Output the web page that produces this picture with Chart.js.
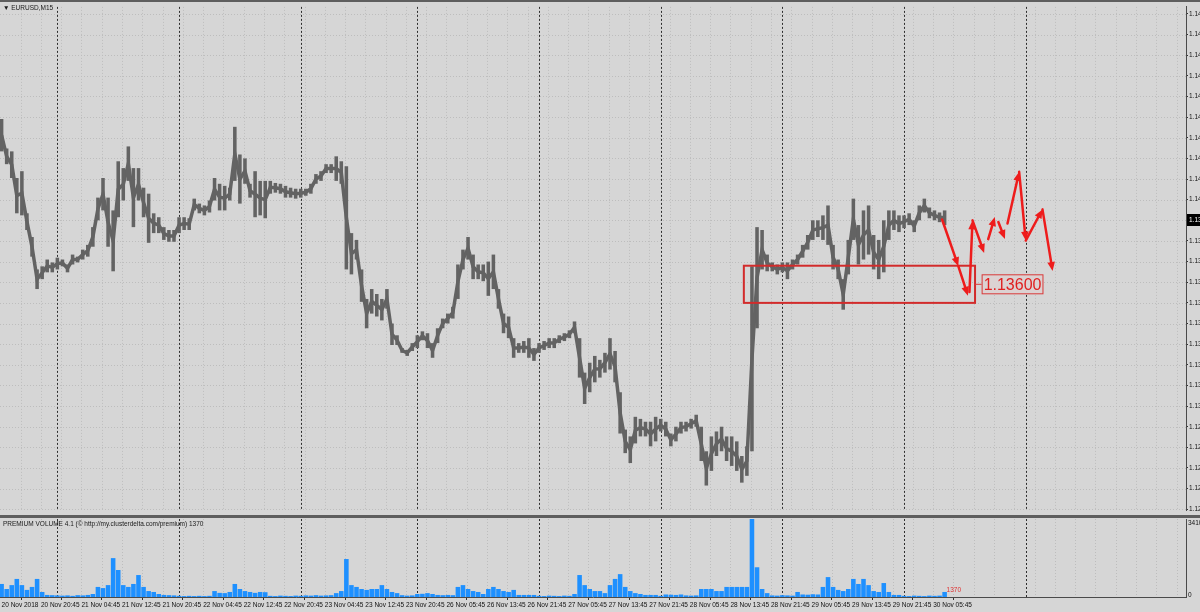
<!DOCTYPE html>
<html>
<head>
<meta charset="utf-8">
<script src="https://cdn.jsdelivr.net/npm/chart.js@4.4.1/dist/chart.umd.min.js"></script>
<style>
  html, body { margin: 0; padding: 0; background: #d6d6d6; }
  #wrap { position: relative; width: 1200px; height: 612px; overflow: hidden; background: #d6d6d6;
          font-family: "Liberation Sans", Arial, sans-serif; }
  .band { position: absolute; left: 0; width: 1200px; background: #5e5e5e; }
  .title { position: absolute; left: 3px; font-size: 6.5px; line-height: 8px; color: #1a1a1a; white-space: nowrap; }
  canvas { position: absolute; left: 0; }
</style>
</head>
<body>
<div id="wrap">
  <div class="band" style="top:0;height:2px"></div>
  <canvas id="priceChart" width="1200" height="513" style="top:2px"></canvas>
  <div class="band" style="top:515px;height:3px"></div>
  <canvas id="volChart" width="1200" height="94" style="top:518px"></canvas>
  <div class="title" style="top:4px">▼ EURUSD,M15</div>
  <div class="title" style="top:520px">PREMIUM VOLUME 4.1 (© http://my.clusterdelta.com/premium) 1370</div>
</div>
<script>
// EURUSD M15, gelesen pro Stunde (Index 0 = 20 Nov 13:00)
const highs = [
  1.14391, 1.14248, 1.14234, 1.14105, 1.14138, 1.13934, 1.13819, 1.13662, 1.13677, 1.13710,
  1.13696, 1.13719, 1.13710, 1.13686, 1.13734, 1.13724, 1.13758, 1.13781, 1.13867, 1.14010,
  1.14105, 1.14010, 1.13948, 1.14186, 1.14153, 1.14258, 1.14153, 1.14153, 1.14058, 1.14029,
  1.13934, 1.13915, 1.13867, 1.13853, 1.13853, 1.13915, 1.13915, 1.13910, 1.14005, 1.13981,
  1.13972, 1.13996, 1.14105, 1.14077, 1.14067, 1.14058, 1.14353, 1.14219, 1.14200, 1.14077,
  1.14138, 1.14091, 1.14091, 1.14091, 1.14081, 1.14077, 1.14067, 1.14058, 1.14053, 1.14053,
  1.14053, 1.14077, 1.14124, 1.14138, 1.14172, 1.14172, 1.14210, 1.14186, 1.14162, 1.13838,
  1.13805, 1.13662, 1.13519, 1.13567, 1.13543, 1.13519, 1.13567, 1.13400, 1.13343, 1.13281,
  1.13272, 1.13305, 1.13343, 1.13362, 1.13353, 1.13305, 1.13377, 1.13424, 1.13448, 1.13481,
  1.13686, 1.13758, 1.13819, 1.13734, 1.13686, 1.13686, 1.13700, 1.13734, 1.13567, 1.13448,
  1.13434, 1.13329, 1.13305, 1.13315, 1.13329, 1.13281, 1.13305, 1.13315, 1.13329, 1.13329,
  1.13343, 1.13353, 1.13367, 1.13410, 1.13329, 1.13162, 1.13210, 1.13243, 1.13224, 1.13258,
  1.13329, 1.13267, 1.13067, 1.12886, 1.12853, 1.12948, 1.12938, 1.12924, 1.12924, 1.12948,
  1.12938, 1.12924, 1.12867, 1.12900, 1.12924, 1.12924, 1.12938, 1.12958, 1.12900, 1.12781,
  1.12853, 1.12877, 1.12900, 1.12853, 1.12853, 1.12829, 1.12758, 1.12805, 1.13677, 1.13867,
  1.13853, 1.13734, 1.13696, 1.13686, 1.13696, 1.13696, 1.13710, 1.13734, 1.13781, 1.13829,
  1.13900, 1.13900, 1.13924, 1.13972, 1.13781, 1.13710, 1.13615, 1.13805, 1.14005, 1.13877,
  1.13948, 1.13972, 1.13829, 1.13805, 1.13900, 1.13948, 1.13948, 1.13924, 1.13924, 1.13934,
  1.13900, 1.13972, 1.14005, 1.13962, 1.13948, 1.13938, 1.13948
];
const lows = [
  1.14234, 1.14172, 1.14105, 1.13934, 1.13924, 1.13853, 1.13724, 1.13567, 1.13615, 1.13648,
  1.13648, 1.13662, 1.13677, 1.13648, 1.13686, 1.13696, 1.13710, 1.13724, 1.13772, 1.13900,
  1.13948, 1.13772, 1.13653, 1.13915, 1.13996, 1.14091, 1.13867, 1.13996, 1.13915, 1.13791,
  1.13838, 1.13838, 1.13805, 1.13796, 1.13796, 1.13838, 1.13853, 1.13853, 1.13948, 1.13934,
  1.13924, 1.13938, 1.13996, 1.13948, 1.13948, 1.13996, 1.14091, 1.13981, 1.14077, 1.14010,
  1.13915, 1.13924, 1.13910, 1.14029, 1.14034, 1.14029, 1.14010, 1.14010, 1.14005, 1.14010,
  1.14019, 1.14029, 1.14077, 1.14091, 1.14129, 1.14129, 1.14091, 1.14077, 1.13662, 1.13638,
  1.13710, 1.13505, 1.13377, 1.13448, 1.13434, 1.13415, 1.13472, 1.13296, 1.13296, 1.13258,
  1.13243, 1.13267, 1.13281, 1.13319, 1.13281, 1.13234, 1.13305, 1.13377, 1.13400, 1.13424,
  1.13519, 1.13662, 1.13710, 1.13615, 1.13615, 1.13605, 1.13534, 1.13567, 1.13472, 1.13353,
  1.13329, 1.13234, 1.13258, 1.13258, 1.13234, 1.13219, 1.13258, 1.13272, 1.13281, 1.13281,
  1.13305, 1.13315, 1.13329, 1.13353, 1.13138, 1.13010, 1.13067, 1.13115, 1.13138, 1.13162,
  1.13177, 1.13115, 1.12867, 1.12772, 1.12724, 1.12819, 1.12853, 1.12853, 1.12805, 1.12829,
  1.12877, 1.12853, 1.12805, 1.12829, 1.12867, 1.12877, 1.12891, 1.12900, 1.12734, 1.12615,
  1.12686, 1.12758, 1.12781, 1.12734, 1.12710, 1.12686, 1.12629, 1.12662, 1.12781, 1.13377,
  1.13662, 1.13653, 1.13653, 1.13638, 1.13648, 1.13615, 1.13662, 1.13686, 1.13719, 1.13758,
  1.13805, 1.13819, 1.13805, 1.13781, 1.13662, 1.13615, 1.13467, 1.13638, 1.13805, 1.13686,
  1.13710, 1.13734, 1.13662, 1.13615, 1.13648, 1.13805, 1.13853, 1.13843, 1.13862, 1.13877,
  1.13843, 1.13900, 1.13938, 1.13910, 1.13900, 1.13891, 1.13877
];
const volumes = [
  570, 350, 520, 790, 520, 310, 440, 790, 220, 90,
  80, 70, 60, 70, 50, 80, 70, 90, 130, 440,
  390, 520, 1700, 1180, 520, 440, 570, 960, 440, 260,
  220, 130, 90, 80, 70, 50, 40, 50, 40, 50,
  40, 50, 260, 180, 170, 220, 570, 350, 260, 220,
  180, 220, 210, 50, 40, 60, 50, 40, 60, 50,
  70, 60, 80, 60, 70, 80, 170, 260, 1660, 520,
  440, 350, 310, 350, 350, 520, 350, 220, 170, 80,
  60, 70, 130, 140, 170, 130, 90, 80, 90, 80,
  440, 520, 350, 260, 220, 130, 350, 440, 350, 260,
  220, 310, 90, 90, 90, 90, 50, 40, 60, 50,
  40, 60, 50, 130, 960, 520, 350, 260, 260, 170,
  520, 790, 1000, 440, 260, 170, 130, 90, 90, 90,
  50, 110, 100, 90, 110, 70, 60, 70, 350, 350,
  350, 260, 260, 440, 440, 440, 440, 440, 3410, 1300,
  350, 170, 70, 60, 80, 70, 60, 220, 110, 100,
  120, 110, 440, 870, 440, 310, 260, 350, 790, 570,
  790, 520, 260, 220, 610, 220, 90, 90, 50, 40,
  60, 50, 40, 60, 50, 60, 220
];
const timeLabels = [
  '20 Nov 2018', '20 Nov 20:45', '21 Nov 04:45', '21 Nov 12:45', '21 Nov 20:45', '22 Nov 04:45',
  '22 Nov 12:45', '22 Nov 20:45', '23 Nov 04:45', '23 Nov 12:45', '23 Nov 20:45', '26 Nov 05:45',
  '26 Nov 13:45', '26 Nov 21:45', '27 Nov 05:45', '27 Nov 13:45', '27 Nov 21:45', '28 Nov 05:45',
  '28 Nov 13:45', '28 Nov 21:45', '29 Nov 05:45', '29 Nov 13:45', '29 Nov 21:45', '30 Nov 05:45'
];
const priceTicks = [
  1.125, 1.126, 1.127, 1.128, 1.129, 1.130, 1.131, 1.132, 1.133, 1.134, 1.135, 1.136, 1.137,
  1.138, 1.139, 1.140, 1.141, 1.142, 1.143, 1.144, 1.145, 1.146, 1.147, 1.148, 1.149
];
const dayStarts = [11, 35, 59, 82, 106, 130, 154, 178, 202]; // Tagestrenner (Stundenindex)
const lastPrice = 1.13900;
const volMax = 3410;
const volLabel = '1370';

// Zeichnungen im Chart (rote Box + Pfeile), in Stundenindex / Preis
const zone = { from: 146.4, to: 192, top: 1.1368, bottom: 1.1350, label: '1.13600', labelAt: 193.3 };
const arrows = [
  [185.5, 1.13904, 188.7, 1.13678],
  [188.7, 1.13678, 190.6, 1.13535],
  [190.9, 1.13553, 191.5, 1.13900],
  [191.5, 1.13900, 193.8, 1.13742],
  [194.6, 1.13809, 195.9, 1.13916],
  [196.6, 1.13892, 197.9, 1.13809],
  [198.4, 1.13885, 200.7, 1.14135],
  [200.7, 1.14135, 202.0, 1.13802],
  [202.0, 1.13802, 205.3, 1.13953],
  [205.3, 1.13953, 207.3, 1.13654]
];

const FONT = '"Liberation Sans", Arial, sans-serif';
const X_MIN = -0.3156, X_MAX = 233.61;
const labelSlots = timeLabels.map((t, k) => (k === 0 ? 0 : 7.75 + 8 * (k - 1)));
const gridHours = [];
for (let h = 3.75; h < X_MAX; h += 4) gridHours.push(h);

const gridPlugin = {
  id: 'mtGrid',
  beforeDatasetsDraw(chart) {
    const { ctx, chartArea: a, scales } = chart;
    const x = scales.x, y = scales.y;
    ctx.save();
    ctx.lineWidth = 1;
    ctx.strokeStyle = '#bdbdbd';
    ctx.setLineDash([1, 2]);
    ctx.beginPath();
    gridHours.forEach(h => {
      const px = Math.round(x.getPixelForValue(h)) + 0.5;
      ctx.moveTo(px, a.top); ctx.lineTo(px, a.bottom);
    });
    if (chart.canvas.id === 'priceChart') {
      priceTicks.forEach(v => {
        const py = Math.round(y.getPixelForValue(v)) + 0.5;
        ctx.moveTo(a.left, py); ctx.lineTo(a.right, py);
      });
    }
    ctx.stroke();
    ctx.strokeStyle = '#2e2e2e';
    ctx.setLineDash([2, 2]);
    ctx.beginPath();
    dayStarts.forEach(h => {
      const px = Math.round(x.getPixelForValue(h)) + 0.5;
      ctx.moveTo(px, a.top); ctx.lineTo(px, a.bottom);
    });
    ctx.stroke();
    ctx.restore();
  }
};

const drawingPlugin = {
  id: 'mtDrawings',
  afterDatasetsDraw(chart) {
    const { ctx, scales: { x, y } } = chart;
    ctx.save();
    // Box
    const x1 = x.getPixelForValue(zone.from), x2 = x.getPixelForValue(zone.to);
    const y1 = y.getPixelForValue(zone.top), y2 = y.getPixelForValue(zone.bottom);
    ctx.strokeStyle = '#d22b2b';
    ctx.lineWidth = 2;
    ctx.strokeRect(x1, y1, x2 - x1, y2 - y1);
    // Label
    const ym = (y1 + y2) / 2;
    const lx = x.getPixelForValue(zone.labelAt);
    ctx.font = '16px ' + FONT;
    const tw = ctx.measureText(zone.label).width;
    ctx.fillStyle = '#dcd2d2';
    ctx.fillRect(lx, ym - 10, tw + 4, 20);
    ctx.lineWidth = 1;
    ctx.strokeStyle = '#d83a3a';
    ctx.strokeRect(lx + 0.5, ym - 9.5, tw + 3, 19);
    ctx.beginPath();
    ctx.moveTo(x2, ym); ctx.lineTo(lx, ym);
    ctx.stroke();
    ctx.fillStyle = '#e02020';
    ctx.textBaseline = 'middle';
    ctx.textAlign = 'left';
    ctx.fillText(zone.label, lx + 2, ym + 1);
    // Pfeile
    ctx.strokeStyle = '#ee1c1c';
    ctx.fillStyle = '#ee1c1c';
    ctx.lineWidth = 2.5;
    ctx.lineCap = 'round';
    arrows.forEach(([a0, p0, a1, p1]) => {
      const sx = x.getPixelForValue(a0), sy = y.getPixelForValue(p0);
      const ex = x.getPixelForValue(a1), ey = y.getPixelForValue(p1);
      const ang = Math.atan2(ey - sy, ex - sx);
      ctx.beginPath();
      ctx.moveTo(sx, sy);
      ctx.lineTo(ex - Math.cos(ang) * 5, ey - Math.sin(ang) * 5);
      ctx.stroke();
      ctx.beginPath();
      ctx.moveTo(ex, ey);
      ctx.lineTo(ex - Math.cos(ang) * 9 + Math.sin(ang) * 3.8, ey - Math.sin(ang) * 9 - Math.cos(ang) * 3.8);
      ctx.lineTo(ex - Math.cos(ang) * 9 - Math.sin(ang) * 3.8, ey - Math.sin(ang) * 9 + Math.cos(ang) * 3.8);
      ctx.closePath();
      ctx.fill();
    });
    ctx.restore();
  },
  afterDraw(chart) {
    const { ctx, chartArea: a, scales: { y } } = chart;
    const py = Math.round(y.getPixelForValue(lastPrice));
    ctx.save();
    ctx.fillStyle = '#000';
    ctx.fillRect(a.right + 1, py - 6, 20, 12);
    ctx.fillStyle = '#fff';
    ctx.font = '6.5px ' + FONT;
    ctx.textBaseline = 'middle';
    ctx.fillText(lastPrice.toFixed(5), a.right + 3, py);
    ctx.restore();
  }
};

const volPlugin = {
  id: 'mtVolLabels',
  afterDraw(chart) {
    const { ctx, chartArea: a, scales: { x, y } } = chart;
    ctx.save();
    ctx.font = '6.5px ' + FONT;
    ctx.textBaseline = 'middle';
    ctx.fillStyle = '#111';
    ctx.fillText(String(volMax), a.right + 2, y.getPixelForValue(volMax) + 4.5);
    ctx.fillText('0', a.right + 2, y.getPixelForValue(0) - 1.5);
    const li = volumes.length - 1;
    ctx.fillStyle = '#e03030';
    ctx.textBaseline = 'bottom';
    ctx.fillText(volLabel, x.getPixelForValue(li) + 2, y.getPixelForValue(volumes[li]) + 1);
    ctx.restore();
  }
};

Chart.defaults.font.family = FONT;
Chart.defaults.font.size = 6.5;
Chart.defaults.color = '#111';

const BAR_GRAY = '#636363';

const priceChart = new Chart(document.getElementById('priceChart'), {
  type: 'bar',
  data: {
    datasets: [{
      data: lows.map((lo, i) => ({ x: i, y: [lo, highs[i]] })),
      backgroundColor: BAR_GRAY,
      borderWidth: 0,
      barPercentage: 0.7,
      categoryPercentage: 1
    }, {
      // verbindet die Stundenbalken wie im Original (dichte M15-Balken)
      type: 'line',
      data: lows.map((lo, i) => ({ x: i, y: (lo + highs[i]) / 2 })),
      borderColor: BAR_GRAY,
      borderWidth: 3.5,
      pointRadius: 0,
      tension: 0
    }]
  },
  options: {
    responsive: false,
    animation: false,
    events: [],
    layout: { padding: { top: 1, left: 0, right: 0, bottom: 0 } },
    plugins: { legend: { display: false }, tooltip: { enabled: false } },
    scales: {
      x: { type: 'linear', min: X_MIN, max: X_MAX, offset: false, display: false },
      y: {
        type: 'linear',
        position: 'right',
        min: 1.12496,
        max: 1.14934,
        afterBuildTicks: s => { s.ticks = priceTicks.map(v => ({ value: v })); },
        afterFit: s => { s.width = 14; },
        ticks: { callback: v => v.toFixed(5), padding: 1, autoSkip: false },
        grid: { drawOnChartArea: false, drawTicks: true, tickLength: 2, color: '#333' },
        border: { display: true, color: '#4a4a4a', width: 1 }
      }
    }
  },
  plugins: [gridPlugin, drawingPlugin]
});

const volChart = new Chart(document.getElementById('volChart'), {
  type: 'bar',
  data: {
    datasets: [{
      data: volumes.map((v, i) => ({ x: i, y: v })),
      backgroundColor: '#1e90ff',
      borderWidth: 0,
      barPercentage: 0.9,
      categoryPercentage: 1
    }]
  },
  options: {
    responsive: false,
    animation: false,
    events: [],
    layout: { padding: { top: 1, left: 0, right: 0, bottom: 0 } },
    plugins: { legend: { display: false }, tooltip: { enabled: false } },
    scales: {
      x: {
        type: 'linear', min: X_MIN, max: X_MAX, offset: false,
        afterBuildTicks: s => { s.ticks = labelSlots.map(v => ({ value: v })); },
        afterFit: s => { s.height = 15; },
        ticks: {
          autoSkip: false, maxRotation: 0, align: 'start', padding: 1,
          callback: (v, i) => timeLabels[i]
        },
        grid: { drawOnChartArea: false, drawTicks: true, tickLength: 3, color: '#333' },
        border: { display: true, color: '#4a4a4a', width: 1 }
      },
      y: {
        type: 'linear', position: 'right', min: 0, max: volMax,
        afterFit: s => { s.width = 14; },
        ticks: { display: false },
        grid: { display: false },
        border: { display: true, color: '#4a4a4a', width: 1 }
      }
    }
  },
  plugins: [gridPlugin, volPlugin]
});
</script>
</body>
</html>
